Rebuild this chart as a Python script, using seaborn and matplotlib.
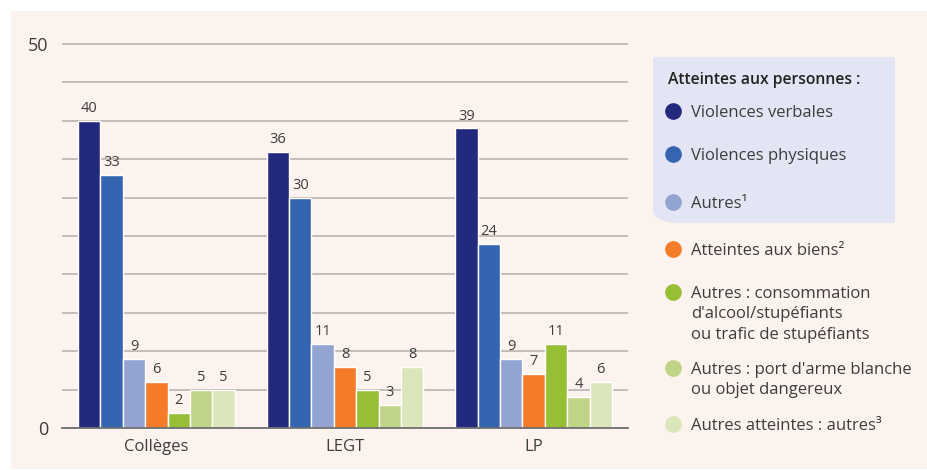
import pandas as pd
import matplotlib.pyplot as plt
import seaborn as sns
from matplotlib.patches import Rectangle, FancyBboxPatch

etablissements = ["Collèges", "LEGT", "LP"]
types = [
    "Violences verbales",
    "Violences physiques",
    "Autres¹",
    "Atteintes aux biens²",
    "Autres : consommation\nd'alcool/stupéfiants\nou trafic de stupéfiants",
    "Autres : port d'arme blanche\nou objet dangereux",
    "Autres atteintes : autres³",
]
colleges = [40, 33, 9, 6, 2, 5, 5]
legt = [36, 30, 11, 8, 5, 3, 8]
lp = [39, 24, 9, 7, 11, 4, 6]
colors = ["#232a7e", "#3565b0", "#93a3d2", "#f47b27", "#97bf36", "#bfd487", "#dce6bb"]

rows = []
for etab, vals in zip(etablissements, [colleges, legt, lp]):
    for t, v in zip(types, vals):
        rows.append({"etab": etab, "type": t, "val": v})
df = pd.DataFrame(rows)

sns.set_style("white")
plt.rcParams["font.family"] = ["Open Sans", "DejaVu Sans"]
txt = "#3d3d3d"

W, H = 927, 470
fig = plt.figure(figsize=(W / 100, H / 100), dpi=100)
fig.patch.set_facecolor("white")
# pink background panel
fig.patches.append(Rectangle((11 / W, 1 - 469 / H), 1, (469 - 11) / H,
                             transform=fig.transFigure, facecolor="#fdf3ee",
                             edgecolor="none", zorder=-10))

ymax = 51
ax = fig.add_axes([62 / W, (H - 428) / H, 566 / W, ymax * 7.68 / H])
ax.set_facecolor("none")

sns.barplot(data=df, x="etab", y="val", hue="type", palette=colors, saturation=1,
            width=0.83, edgecolor="white", linewidth=1, legend=False, ax=ax)

for c in ax.containers:
    ax.bar_label(c, padding=3.5, fontsize=10.5, color=txt)

ax.set_ylim(0, ymax)
ax.set_xlim(-0.5, 2.5)
ax.set_yticks(range(0, 51, 5))
ax.set_yticklabels(["0" if v == 0 else ("50" if v == 50 else "") for v in range(0, 51, 5)],
                   fontsize=13, color=txt)
ax.tick_params(axis="y", length=0, pad=10)
ax.yaxis.grid(True, color="#b3afac", linewidth=1.1)
ax.set_axisbelow(True)

ax.set_xticks([-0.5, 0.5, 1.5, 2.5])
ax.set_xticklabels([])
ax.set_xticks([0, 1, 2], minor=True)
ax.set_xticklabels(etablissements, minor=True, fontsize=12, color=txt)
ax.tick_params(axis="x", which="major", length=21.6, width=1.3, color="#6f6f6f", direction="out")
ax.tick_params(axis="x", which="minor", length=0, pad=8)
for s in ["top", "right", "left"]:
    ax.spines[s].set_visible(False)
ax.spines["bottom"].set_color("#6f6f6f")
ax.spines["bottom"].set_linewidth(1.3)
ax.set_xlabel("")
ax.set_ylabel("")

# legend panel (lavender box, rounded bottom-left corner)
lav = "#e4e5f4"
bx0, bx1, by0, by1, r = 653, 895, 57, 223, 16
fig.patches.append(FancyBboxPatch((bx0 / W, 1 - by1 / H), (bx1 - bx0) / W, (by1 - by0) / H,
                                  boxstyle="round,pad=0,rounding_size=0.03",
                                  transform=fig.transFigure, facecolor=lav,
                                  edgecolor="none", zorder=-5))
fig.patches.append(Rectangle(((bx0 + r) / W, 1 - by1 / H), (bx1 - bx0 - r) / W, (by1 - by0) / H,
                             transform=fig.transFigure, facecolor=lav, edgecolor="none", zorder=-5))
fig.patches.append(Rectangle((bx0 / W, 1 - (by1 - r) / H), (bx1 - bx0) / W, (by1 - by0 - r) / H,
                             transform=fig.transFigure, facecolor=lav, edgecolor="none", zorder=-5))

fig.text(668 / W, 1 - 84 / H, "Atteintes aux personnes :", fontsize=11.3, fontweight="semibold",
         color="#222222", va="baseline", ha="left")
legend_y = [111, 154, 202, 249, 292, 368, 424]
for t, col, y in zip(types, colors, legend_y):
    fig.lines.append(plt.Line2D([673 / W], [1 - y / H], marker="o", markersize=11,
                                color=col, transform=fig.transFigure))
    for i, line in enumerate(t.split("\n")):
        fig.text(691 / W, 1 - (y + 6 + 20.5 * i) / H, line, fontsize=12, color=txt,
                 va="baseline", ha="left")

fig.savefig("out.png", dpi=100, facecolor=fig.get_facecolor())
